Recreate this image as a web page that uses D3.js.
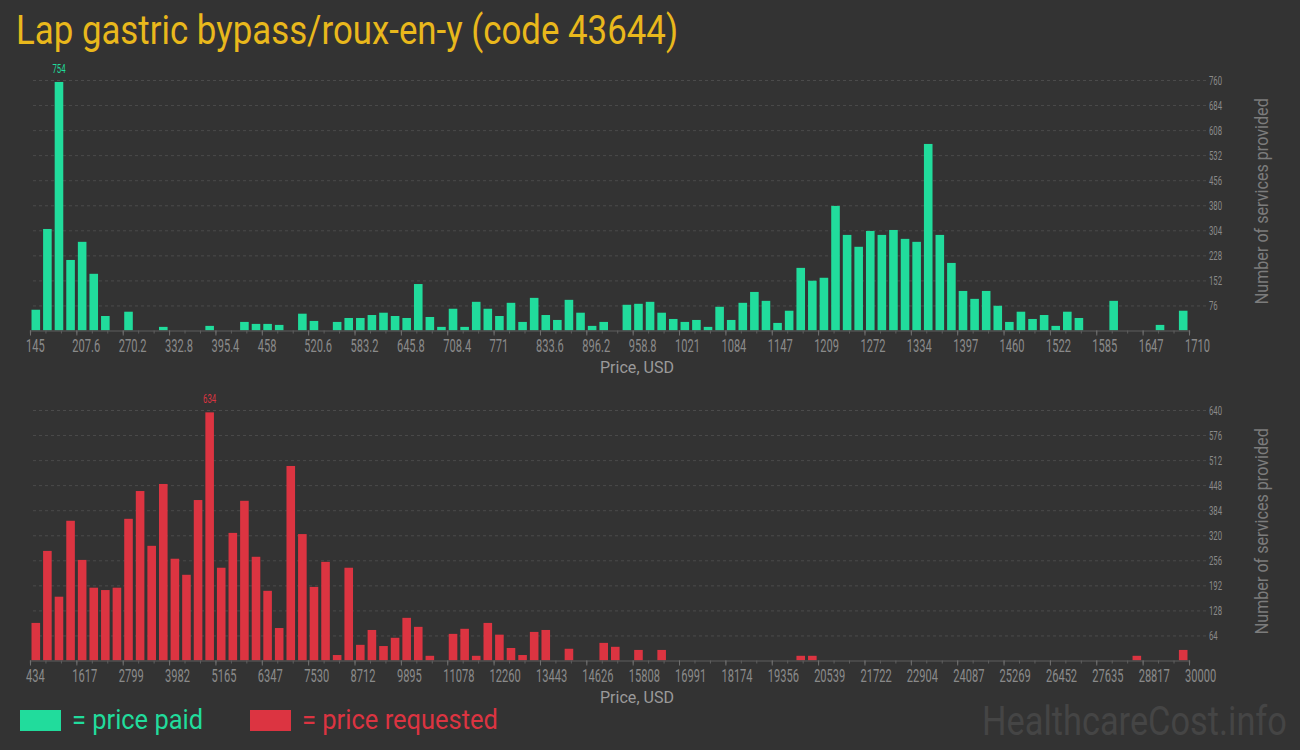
<!DOCTYPE html>
<html><head><meta charset="utf-8">
<script src="https://cdn.jsdelivr.net/npm/d3@7"></script>
<style>html,body{margin:0;padding:0;background:#333333;}svg{display:block;}</style>
</head><body>
<svg id="chart" width="1300" height="750"></svg>
<script>
// ---------- data ----------
const titleText = "Lap gastric bypass/roux-en-y (code 43644)";
const paidRange = [145, 1710];
const paidCounts = [63,308,754,214,269,172,44,0,57,0,
  0,11,0,0,0,14,0,0,26,20,
  20,17,0,51,29,0,26,38,38,47,
  54,44,38,141,41,11,66,11,87,66,
  44,84,26,99,47,32,93,54,14,26,
  0,78,81,87,54,35,26,32,11,72,
  32,84,117,90,23,60,190,151,160,378,
  290,254,302,290,305,278,269,566,290,205,
  120,96,120,75,26,57,35,47,14,57,
  38,0,0,90,0,0,0,17,0,60];
const paidXTicks = ["145","207.6","270.2","332.8","395.4","458","520.6","583.2","645.8","708.4","771","833.6","896.2","958.8","1021","1084","1147","1209","1272","1334","1397","1460","1522","1585","1647","1710"];
const paidYTicks = [76,152,228,304,380,456,532,608,684,760];

const reqRange = [434, 30000];
const reqCounts = [96,280,163,357,257,186,180,186,362,433,
  293,451,260,219,410,634,237,326,408,265,
  178,83,497,323,188,252,14,237,40,78,
  37,58,109,86,12,0,68,81,12,96,
  66,32,14,73,78,0,30,0,0,45,
  35,0,27,0,27,0,0,0,0,0,
  0,0,0,0,0,0,12,12,0,0,
  0,0,0,0,0,0,0,0,0,0,
  0,0,0,0,0,0,0,0,0,0,
  0,0,0,0,0,12,0,0,0,27];
const reqXTicks = ["434","1617","2799","3982","5165","6347","7530","8712","9895","11078","12260","13443","14626","15808","16991","18174","19356","20539","21722","22904","24087","25269","26452","27635","28817","30000"];
const reqYTicks = [64,128,192,256,320,384,448,512,576,640];

const xAxisTitle = "Price, USD";
const yAxisTitle = "Number of services provided";
const legendLabels = ["= price paid", "= price requested"];
const watermark = "HealthcareCost.info";

// ---------- styles ----------
const GREEN = "#21dc9c", RED = "#dc3441", YELLOW = "#e9b81c";
const FONT = "Roboto, 'Noto Sans', sans-serif";
const svg = d3.select("#chart");
svg.append("rect").attr("width",1300).attr("height",750).attr("fill","#333333");

svg.append("text").attr("x",16).attr("y",44).attr("font-family",FONT).attr("font-size",40)
  .attr("fill",YELLOW).attr("textLength",662).attr("lengthAdjust","spacingAndGlyphs").text(titleText);

function panel(cfg){
  const {range, counts, xTicks, yTicks, yMax, top, bottom, color} = cfg;
  const left = 30, right = 1189, gridRight = 1206;
  const x = d3.scaleLinear().domain(range).range([left, right]);
  const y = d3.scaleLinear().domain([0, yMax]).range([bottom, top]);
  const n = counts.length, step = (range[1]-range[0])/n;
  const g = svg.append("g");

  // grid + y labels
  const ya = g.append("g").attr("transform",`translate(${gridRight},0)`)
    .call(d3.axisRight(y).tickValues(yTicks).tickSize(-(gridRight-left)).tickPadding(3).tickFormat(d3.format("d")));
  ya.select(".domain").remove();
  ya.selectAll(".tick line").attr("stroke","#4b4b4b").attr("stroke-dasharray","3,3");
  ya.selectAll(".tick text").attr("fill","#8a8a8a").attr("font-family",FONT).attr("font-size",12.5)
    .attr("x",3/0.62).attr("transform","scale(0.62,1)");

  // bars
  const bins = counts.map((v,i)=>({v, x0: range[0]+i*step, x1: range[0]+(i+1)*step}));
  g.append("g").selectAll("rect").data(bins.filter(d=>d.v>0)).join("rect")
    .attr("x", d=>x(d.x0)+1.5).attr("width", d=>x(d.x1)-x(d.x0)-3)
    .attr("y", d=>y(d.v)).attr("height", d=>y(0)-y(d.v)).attr("fill", color);

  // peak label
  const mx = bins.reduce((a,b)=>b.v>a.v?b:a);
  g.append("text").attr("transform",`translate(${(x(mx.x0)+x(mx.x1))/2},${y(mx.v)-9}) scale(0.62,1)`)
    .attr("text-anchor","middle").attr("font-family",FONT).attr("font-size",12.5).attr("fill",color).text(mx.v);

  // x axis: minor ticks
  const majorVals = d3.range(xTicks.length).map(i=>range[0]+i*(range[1]-range[0])/(xTicks.length-1));
  const minorVals = d3.range((xTicks.length-1)*3+1).map(i=>range[0]+i*(range[1]-range[0])/((xTicks.length-1)*3));
  const xm = g.append("g").attr("transform",`translate(0,${bottom})`)
    .call(d3.axisBottom(x).tickValues(minorVals).tickSize(3).tickFormat(""));
  xm.select(".domain").attr("stroke","#505050").attr("stroke-width",1.5);
  xm.selectAll(".tick line").attr("stroke","#606060");
  const xa = g.append("g").attr("transform",`translate(0,${bottom})`)
    .call(d3.axisBottom(x).tickValues(majorVals).tickSize(5).tickPadding(3).tickFormat((d,i)=>xTicks[i]));
  xa.select(".domain").remove();
  xa.selectAll(".tick line").attr("stroke","#707070");
  xa.selectAll(".tick text").attr("fill","#8a8a8a").attr("font-family",FONT).attr("font-size",18.5)
    .attr("text-anchor","start").attr("x",-4.5/0.6).attr("transform","scale(0.6,1)");

  // titles
  g.append("text").attr("x",637).attr("y",bottom+42).attr("text-anchor","middle").attr("font-family",FONT)
    .attr("font-size",16.5).attr("fill","#9a9a9a").attr("textLength",74).attr("lengthAdjust","spacingAndGlyphs").text(xAxisTitle);
  g.append("text").attr("transform",`translate(1268,${(top+bottom)/2-4}) rotate(-90)`).attr("text-anchor","middle")
    .attr("font-family",FONT).attr("font-size",18.5).attr("fill","#7c7c7c").attr("textLength",206)
    .attr("lengthAdjust","spacingAndGlyphs").text(yAxisTitle);
}

panel({range: paidRange, counts: paidCounts, xTicks: paidXTicks, yTicks: paidYTicks, yMax: 760, top: 80, bottom: 330.5, color: GREEN});
panel({range: reqRange, counts: reqCounts, xTicks: reqXTicks, yTicks: reqYTicks, yMax: 640, top: 410, bottom: 660.5, color: RED});

// legend
const leg = [{x:20, tx:72, len:131, c:GREEN},{x:250, tx:302, len:196, c:RED}];
leg.forEach((l,i)=>{
  svg.append("rect").attr("x",l.x).attr("y",710).attr("width",41).attr("height",21).attr("fill",l.c);
  svg.append("text").attr("x",l.tx).attr("y",729).attr("font-family",FONT).attr("font-size",28).attr("fill",l.c)
    .attr("textLength",l.len).attr("lengthAdjust","spacingAndGlyphs").text(legendLabels[i]);
});
// watermark: condensed via horizontal scale so its box stays inside the page
const wm = svg.append("text").attr("x",0).attr("y",0).attr("font-family",FONT).attr("font-size",41)
  .attr("fill","#454545").text(watermark);
const wmW = wm.node().getComputedTextLength() || 390;
wm.attr("transform",`translate(982,734.5) scale(${305/wmW},1)`);
</script>
</body></html>
